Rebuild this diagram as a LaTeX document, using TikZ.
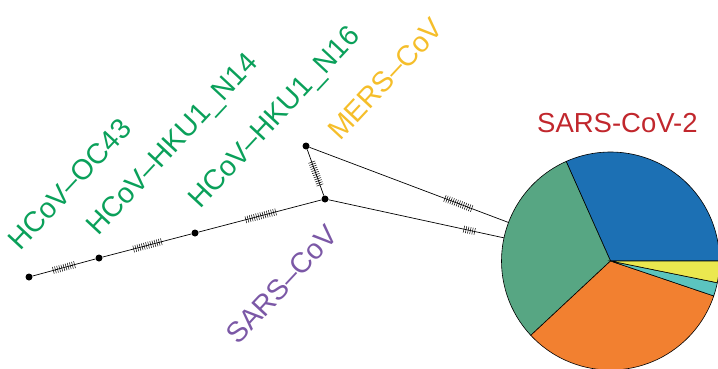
\documentclass[tikz,border=0pt]{standalone}
\usepackage{fontspec}
\setmainfont{Liberation Sans}
\usetikzlibrary{decorations.markings}
\definecolor{hcovgreen}{HTML}{0AA05A}
\definecolor{mersyellow}{HTML}{F5BE2A}
\definecolor{sarspurple}{HTML}{7B58A6}
\definecolor{covred}{HTML}{C1272D}
\definecolor{pieblue}{HTML}{1C70B4}
\definecolor{piegreen}{HTML}{57A683}
\definecolor{pieorange}{HTML}{F28030}
\definecolor{piecyan}{HTML}{5BC4BF}
\definecolor{pieyellow}{HTML}{EBE84F}
\begin{document}
\begin{tikzpicture}[x=1pt,y=1pt,
  hap/.style={circle,fill=black,inner sep=0,minimum size=7pt},
  br/.style={line width=0.7pt},
  lbl/.style={rotate=47,anchor=base west,inner sep=0,font=\fontsize{28.5}{34}\selectfont},
  muts/.style 2 args={postaction={decorate},decoration={markings,
    mark=between positions #1 and #2 step 2.2pt with {\draw[line width=0.5pt] (0,-3.5pt) -- (0,3.5pt);}}}]
\useasboundingbox (0,0) rectangle (718,368);
\node[hap] (oc43) at (29,91) {};
\node[hap] (n14) at (99,110) {};
\node[hap] (n16) at (195,135) {};
\node[hap] (sars) at (325,169) {};
\node[hap] (mers) at (306,222) {};
\coordinate (cov2) at (610.5,107);
\draw[br,muts={0.33}{0.70}] (oc43) -- (n14);
\draw[br,muts={0.35}{0.67}] (n14) -- (n16);
\draw[br,muts={0.385}{0.63}] (n16) -- (sars);
\draw[br,muts={0.23}{0.74}] (sars) -- (mers);
\draw[br,muts={0.45}{0.545}] (mers) -- (cov2);
\draw[br,muts={0.48}{0.52}] (sars) -- (cov2);
\foreach \a/\b/\c in {0/114/pieblue,114/223/piegreen,223/341.3/pieorange,341.3/348.5/piecyan,348.5/360/pieyellow}
  \filldraw[fill=\c,draw=black,line width=0.6pt] (cov2) -- ++(\a:109) arc[start angle=\a,end angle=\b,radius=109] -- cycle;
\node[lbl,text=hcovgreen] (l-oc43) at (20,116) {HCoV–OC43};
\node[lbl,text=hcovgreen] (l-n14) at (98,131) {HCoV–HKU1\_N14};
\node[lbl,text=hcovgreen] (l-n16) at (200,158) {HCoV–HKU1\_N16};
\node[lbl,text=mersyellow] (l-mers) at (340,226) {MERS–CoV};
\node[lbl,text=sarspurple] (l-sars) at (238,22) {SARS–CoV};
\node[anchor=base west,inner sep=0,font=\fontsize{27.5}{33}\selectfont,text=covred] (l-cov2) at (537,236) {SARS-CoV-2};
\end{tikzpicture}
\end{document}
